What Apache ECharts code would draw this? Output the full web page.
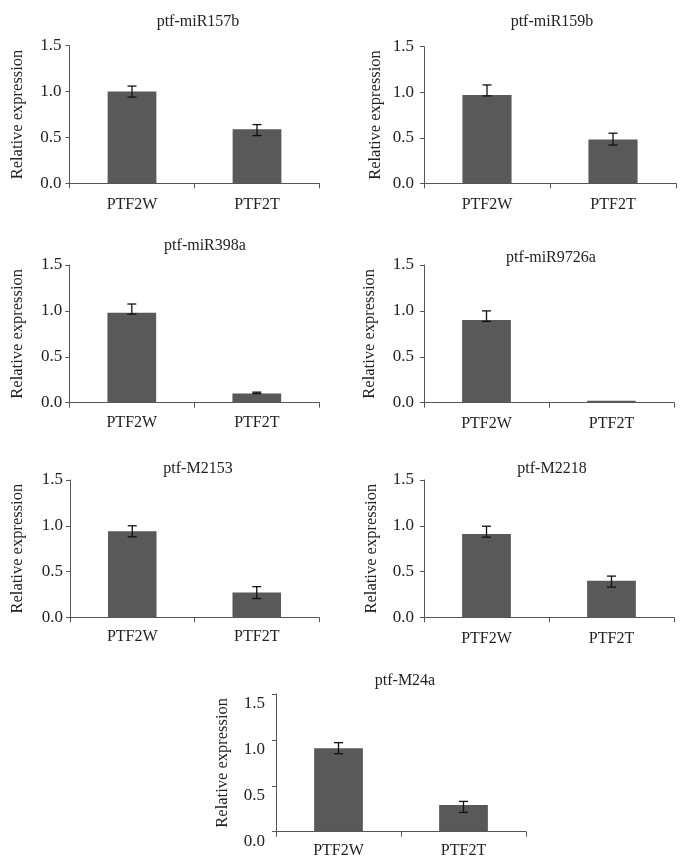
<!DOCTYPE html>
<html>
<head>
<meta charset="utf-8">
<script src="https://cdn.jsdelivr.net/npm/echarts@6/dist/echarts.min.js"></script>
<style>
html,body{margin:0;padding:0;background:#fff;}
#chart{width:684px;height:867px;}
</style>
</head>
<body>
<div id="chart"></div>
<script>
// ---- data ----
const categories = ['PTF2W', 'PTF2T'];
const panelTitles = ['ptf-miR157b', 'ptf-miR159b', 'ptf-miR398a', 'ptf-miR9726a', 'ptf-M2153', 'ptf-M2218', 'ptf-M24a'];
const meanPTF2W = [1.00, 0.97, 0.98, 0.90, 0.94, 0.91, 0.91];
const meanPTF2T = [0.59, 0.48, 0.10, 0.02, 0.27, 0.40, 0.29];
const errHighPTF2W = [1.06, 1.08, 1.075, 1.00, 1.00, 0.995, 0.97];
const errLowPTF2W  = [0.94, 0.96, 0.965, 0.885, 0.88, 0.875, 0.85];
const errHighPTF2T = [0.64, 0.55, 0.115, 0.02, 0.335, 0.45, 0.33];
const errLowPTF2T  = [0.52, 0.42, 0.10, 0.02, 0.205, 0.33, 0.21];
const yMin = 0, yMax = 1.5, yInterval = 0.5;
const yAxisTitle = 'Relative expression';

// ---- layout (positions only) ----
const layout = [
  {left: 69.5, top: 45.7, width: 250, height: 137.6, tx: 193, ty: 9,   nameGap: 43, yMargin: 8,  xMargin: 13, yShift: 0},
  {left: 424,  top: 46.7, width: 252, height: 136.6, tx: 547, ty: 9,   nameGap: 40, yMargin: 10, xMargin: 13, yShift: 0},
  {left: 69.3, top: 265,  width: 250, height: 137.7, tx: 200, ty: 233, nameGap: 43, yMargin: 7,  xMargin: 12.5, yShift: 0},
  {left: 424,  top: 265,  width: 250, height: 137.7, tx: 546, ty: 244.5, nameGap: 45.5, yMargin: 10, xMargin: 13, yShift: 0},
  {left: 70,   top: 480,  width: 249, height: 137.3, tx: 193, ty: 456, nameGap: 43.5, yMargin: 7,  xMargin: 11.5, yShift: 0},
  {left: 424,  top: 480,  width: 250, height: 137.3, tx: 547, ty: 456, nameGap: 43.5, yMargin: 10, xMargin: 13, yShift: 0},
  {left: 276,  top: 694,  width: 250, height: 137.7, tx: 400, ty: 668, nameGap: 44.5, yMargin: 11, xMargin: 11, yShift: 1}
];

const FONT = 'Liberation Serif';
const TXT = '#222';
const AXIS = '#555';
const BAR = '#595959';

const grids = [], xAxes = [], yAxes = [], series = [], titles = [];
layout.forEach((L, i) => {
  grids.push({left: L.left, top: L.top, width: L.width, height: L.height, containLabel: false});
  titles.push({
    text: panelTitles[i], left: L.tx, top: L.ty, textAlign: 'center',
    textStyle: {fontFamily: FONT, fontSize: 16, fontWeight: 'normal', color: TXT}
  });
  xAxes.push({
    type: 'category', gridIndex: i, data: categories,
    axisLine: {lineStyle: {color: AXIS, width: 1}},
    axisTick: {show: true, length: 5, lineStyle: {color: AXIS}},
    axisLabel: {fontFamily: FONT, fontSize: 16, color: TXT, margin: L.xMargin}
  });
  yAxes.push({
    type: 'value', gridIndex: i, min: yMin, max: yMax, interval: yInterval,
    name: yAxisTitle, nameLocation: 'middle', nameGap: L.nameGap,
    nameTextStyle: {fontFamily: FONT, fontSize: 16.5, color: TXT},
    axisLine: {show: true, lineStyle: {color: AXIS, width: 1}},
    axisTick: {show: true, length: 4, lineStyle: {color: AXIS}},
    splitLine: {show: false},
    axisLabel: Object.assign({
      fontFamily: FONT, fontSize: 17, color: TXT, margin: L.yMargin,
      formatter: v => v.toFixed(1)
    }, L.yShift ? {verticalAlign: 'top', lineHeight: 17, padding: [1, 0, 0, 0]} : {})
  });
  series.push({
    type: 'bar', xAxisIndex: i, yAxisIndex: i,
    data: [meanPTF2W[i], meanPTF2T[i]],
    barWidth: '39%',
    itemStyle: {color: BAR},
    silent: true
  });
  series.push({
    type: 'custom', xAxisIndex: i, yAxisIndex: i, z: 10, silent: true,
    data: [[0, errLowPTF2W[i], errHighPTF2W[i]], [1, errLowPTF2T[i], errHighPTF2T[i]]],
    encode: {x: 0, y: [1, 2]},
    renderItem: function (params, api) {
      const x = api.value(0);
      const lo = api.value(1), hi = api.value(2);
      if (hi - lo < 0.003) return {type: 'group', children: []};
      const pHi = api.coord([x, hi]);
      const pLo = api.coord([x, lo]);
      const w = 4.5;
      const st = {stroke: '#111', lineWidth: 1.3};
      return {
        type: 'group',
        children: [
          {type: 'line', shape: {x1: pHi[0], y1: pHi[1], x2: pLo[0], y2: pLo[1]}, style: st},
          {type: 'line', shape: {x1: pHi[0] - w, y1: pHi[1], x2: pHi[0] + w, y2: pHi[1]}, style: st},
          {type: 'line', shape: {x1: pLo[0] - w, y1: pLo[1], x2: pLo[0] + w, y2: pLo[1]}, style: st}
        ]
      };
    }
  });
});

const chart = echarts.init(document.getElementById('chart'), null, {renderer: 'canvas'});
chart.setOption({
  backgroundColor: '#fff',
  animation: false,
  title: titles,
  grid: grids,
  xAxis: xAxes,
  yAxis: yAxes,
  series: series
});
</script>
</body>
</html>
